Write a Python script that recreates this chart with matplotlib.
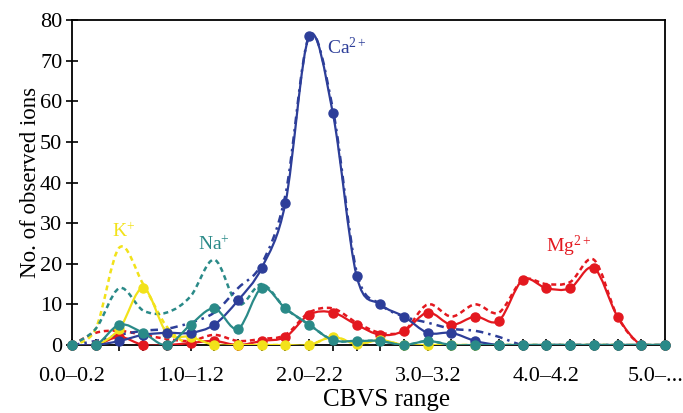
import numpy as np
import matplotlib
matplotlib.use("Agg")
import matplotlib.pyplot as plt
from matplotlib.path import Path
from matplotlib.patches import PathPatch
from matplotlib.transforms import ScaledTranslation

plt.rcParams['font.family'] = ['Liberation Serif', 'DejaVu Serif']
plt.rcParams['mathtext.fontset'] = 'custom'
plt.rcParams['mathtext.rm'] = 'Liberation Serif'
plt.rcParams['mathtext.it'] = 'Liberation Serif:italic'

# categories: CBVS ranges in steps of 0.2
lower = [round(0.2 * k, 1) for k in range(26)]
tick_labels = ["0.0–0.2", "1.0–1.2", "2.0–2.2", "3.0–3.2", "4.0–4.2", "5.0–..."]

# solid series (with markers)
ca = [0, 0, 1, 2.5, 3, 3, 5, 11, 19, 35, 76, 57, 17, 10, 7, 3, 3, 1, 0, 0, 0, 0, 0, 0, 0, 0]
na = [0, 0, 5, 3, 0, 5, 9, 4, 14, 9, 5, 1.2, 1, 1, 0, 1, 0, 0, 0, 0, 0, 0, 0, 0, 0, 0]
k = [0, 0, 4, 14, 3, 2, 0, 0, 0, 0, 0, 2, 0.3, 1.2, 0, 0, 0, 0, 0, 0, 0, 0, 0, 0, 0, 0]
mg = [0, 0, 2, 0, 0, 0.5, 1, 0, 1, 2, 7.5, 8, 5, 2.5, 3.5, 8, 5, 7, 6, 16, 14, 14, 19, 7, 0, 0]

# dashed series (no markers)
ca_d = [0, 1, 2.5, 3.5, 4, 5.5, 8, 14, 20, 37, 76, 58, 18, 10, 7, 5.5, 4, 3.5, 2, 0, 0, 0, 0, 0, 0, 0]
na_d = [0, 4, 14, 8.5, 8, 12, 21, 10, 15, 9, 5, 1.2, 1, 1, 0, 1, 0, 0, 0, 0, 0, 0, 0, 0, 0, 0]
k_d = [0, 4, 24, 15, 4.5, 0, 0, 0, 0, 0, 0, 2, 0.3, 1.2, 0, 0, 0, 0, 0, 0, 0, 0, 0, 0, 0, 0]
mg_d = [0, 3, 3.5, 2.5, 1.5, 1, 2.5, 1, 1.5, 2.5, 8, 9, 5.5, 3, 3.5, 10, 7, 10, 8, 16, 15, 15.5, 21, 7, 0, 0]

c_ca = "#2d3e99"
c_na = "#2a8a88"
c_k = "#f2e21a"
c_mg = "#e3181f"


def smooth_path(xs, ys):
    # Bezier curve through the points, like a spreadsheet "smoothed line"
    xs = np.asarray(xs, float)
    ys = np.asarray(ys, float)
    n = len(xs)
    verts = [(xs[0], ys[0])]
    codes = [Path.MOVETO]
    for j in range(n - 1):
        a = max(j - 1, 0)
        b = min(j + 2, n - 1)
        c1 = (xs[j] + (xs[j + 1] - xs[a]) / 6, ys[j] + (ys[j + 1] - ys[a]) / 6)
        c2 = (xs[j + 1] - (xs[b] - xs[j]) / 6, ys[j + 1] - (ys[b] - ys[j]) / 6)
        verts += [c1, c2, (xs[j + 1], ys[j + 1])]
        codes += [Path.CURVE4] * 3
    return Path(verts, codes)


fig = plt.figure(figsize=(6.83, 4.13), dpi=100)
ax = fig.add_axes([0.1054, 0.1646, 0.8682, 0.787])
x = np.arange(len(lower))

dashed = [(mg_d, c_mg, (0, (2, 1.5))), (k_d, c_k, (0, (2, 1.5))),
          (na_d, c_na, (0, (2, 1.5))), (ca_d, c_ca, (0, (3, 2, 1, 2)))]
for vals, col, ls in dashed:
    ax.add_patch(PathPatch(smooth_path(x, vals), fill=False, edgecolor=col,
                           lw=1.8, linestyle=ls, zorder=2))

solid = [(mg, c_mg), (k, c_k), (ca, c_ca), (na, c_na)]
for z, (vals, col) in enumerate(solid):
    ax.add_patch(PathPatch(smooth_path(x, vals), fill=False, edgecolor=col,
                           lw=1.6, zorder=3 + z))
    ax.plot(x, vals, 'o', color=col, ms=6.5, zorder=3 + z, clip_on=False)

ax.set_xlim(0, 25)
ax.set_ylim(0, 80)
ax.set_yticks(range(0, 81, 10))
ax.set_xticks(x)
ax.set_xticklabels([tick_labels[i // 5] if i % 5 == 0 else "" for i in x])
ax.tick_params(direction='inout', length=8, width=1.2, labelsize=16, pad=3)
ax.tick_params(axis='x', pad=12)
for s in ax.spines.values():
    s.set_linewidth(1.3)

# last label sits a little to the left, as in the original
last = ax.get_xticklabels()[-1]
last.set_transform(last.get_transform() + ScaledTranslation(-0.09, 0, fig.dpi_scale_trans))

ax.set_xlabel("CBVS range", fontsize=18, labelpad=2)
ax.xaxis.label.set_x(0.53)
ax.set_ylabel("No. of observed ions", fontsize=16.5, labelpad=-1)

ax.text(10.75, 71.5, "Ca$^{2+}$", color=c_ca, fontsize=14)
ax.text(5.3, 23.3, "Na$^{+}$", color=c_na, fontsize=14)
ax.text(1.7, 26.5, "K$^{+}$", color=c_k, fontsize=14)
ax.text(20.0, 22.8, "Mg$^{2+}$", color=c_mg, fontsize=14)

fig.savefig("out.png", dpi=100)
